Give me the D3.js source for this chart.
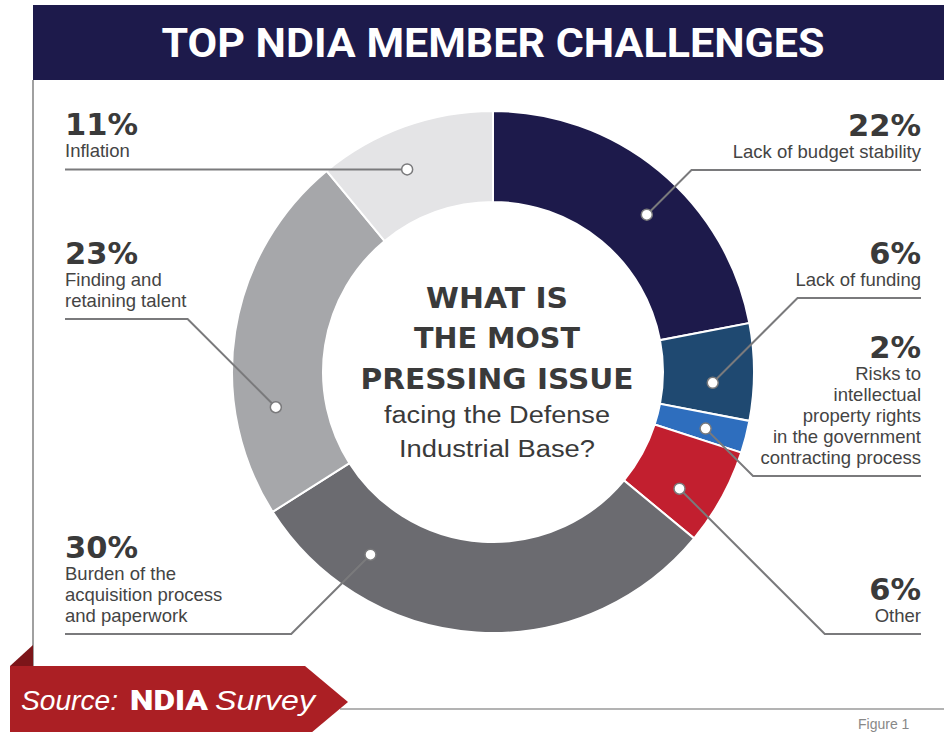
<!DOCTYPE html>
<html>
<head>
<meta charset="utf-8">
<script src="https://cdn.jsdelivr.net/npm/d3@7"></script>
<style>
  html, body { margin: 0; padding: 0; background: #fff; }
  svg { display: block; }
</style>
</head>
<body>
<script>
// survey answers, clockwise from 12 o'clock
let categories = ["budget", "funding", "ip", "other", "burden", "talent", "inflation"];
let shares = [22, 6, 2, 6, 30, 23, 11];
let labelLines = [
    ["Lack of budget stability"],
    ["Lack of funding"],
    ["Risks to", "intellectual", "property rights", "in the government", "contracting process"],
    ["Other"],
    ["Burden of the", "acquisition process", "and paperwork"],
    ["Finding and", "retaining talent"],
    ["Inflation"]
];
let sliceColors = ["#1d1a4b", "#1f4971", "#2e6ebe", "#c21f2f", "#6b6b70", "#a6a7aa", "#e4e4e6"];

// callout layout (where the dot sits in the slice, the y of the leader line, which side)
let callouts = [
    { f: 0.56, lineY: 170, side: "right" },
    { f: 0.63, lineY: 298, side: "right" },
    { f: 0.57, lineY: 476, side: "right" },
    { f: 0.65, lineY: 634, side: "right" },
    { f: 0.78, lineY: 634, side: "left" },
    { f: 0.28, lineY: 319, side: "left" },
    { f: 0.42, lineY: null, side: "left" }
];

const W = 944, H = 732;
const cx = 493, cy = 372;
const rOuter = 261, rInner = 170, rDot = 220;
const xLeft = 65, xRight = 921;
const textColor = "#3a3a3a";

let svg = d3.select("body").append("svg")
    .attr("width", W)
    .attr("height", H);

// title bar
svg.append("rect")
    .attr("x", 33).attr("y", 5)
    .attr("width", W - 33).attr("height", 75)
    .style("fill", "#1d1a4b");

svg.append("text")
    .attr("x", 493).attr("y", 57)
    .attr("text-anchor", "middle")
    .attr("textLength", 663)
    .attr("lengthAdjust", "spacingAndGlyphs")
    .style("font-family", "Roboto, 'Liberation Sans', sans-serif")
    .style("font-weight", 700)
    .style("font-size", "41px")
    .style("fill", "#fff")
    .text("TOP NDIA MEMBER CHALLENGES");

// panel border on the left
svg.append("line")
    .attr("x1", 33).attr("x2", 33)
    .attr("y1", 80).attr("y2", 666)
    .style("stroke", "#a0a0a0")
    .style("stroke-width", 2);

// donut
let pie = d3.pie().sort(null).value(d => d);
let arcs = pie(shares);
let arc = d3.arc().innerRadius(rInner).outerRadius(rOuter);

let chart = svg.append("g").attr("transform", `translate(${cx},${cy})`);

chart.selectAll("path.slice")
    .data(arcs)
    .enter()
    .append("path")
    .attr("class", "slice")
    .attr("data-id", (d, i) => categories[i])
    .attr("d", arc)
    .style("fill", (d, i) => sliceColors[i])
    .style("stroke", "#fff")
    .style("stroke-width", 2);

// leader lines + dots
function dotPoint(d, i) {
    let a = d.startAngle + callouts[i].f * (d.endAngle - d.startAngle);
    return [cx + rDot * Math.sin(a), cy - rDot * Math.cos(a)];
}

let leaders = svg.append("g");
arcs.forEach((d, i) => {
    let c = callouts[i];
    let p = dotPoint(d, i);
    let lineY = c.lineY === null ? p[1] : c.lineY;
    let sign = c.side === "right" ? 1 : -1;
    let elbow = [p[0] + sign * Math.abs(lineY - p[1]), lineY];
    let end = [c.side === "right" ? xRight : xLeft, lineY];
    c.y = lineY;

    leaders.append("path")
        .attr("d", d3.line()([p, elbow, end]))
        .style("fill", "none")
        .style("stroke", "#7a7a7c")
        .style("stroke-width", 2);

    leaders.append("circle")
        .attr("cx", p[0]).attr("cy", p[1])
        .attr("r", 5.5)
        .style("fill", "#fff")
        .style("stroke", "#7a7a7c")
        .style("stroke-width", 1.5);
});

// labels
let labels = svg.append("g");
arcs.forEach((d, i) => {
    let c = callouts[i];
    let lines = labelLines[i];
    let x = c.side === "right" ? xRight : xLeft;
    let anchor = c.side === "right" ? "end" : "start";
    let lastBase = c.y - 12;
    let firstBase = lastBase - 21 * (lines.length - 1);

    labels.append("text")
        .attr("x", x).attr("y", firstBase - 22)
        .attr("text-anchor", anchor)
        .style("font-family", "'DejaVu Sans', sans-serif")
        .style("font-weight", 700)
        .style("font-size", "30.5px")
        .style("fill", textColor)
        .text(shares[i] + "%");

    lines.forEach((t, j) => {
        labels.append("text")
            .attr("x", x).attr("y", firstBase + 21 * j)
            .attr("text-anchor", anchor)
            .style("font-family", "'Liberation Sans', Arial, sans-serif")
            .style("font-size", "18.5px")
            .style("fill", "#444")
            .text(t);
    });
});

// centre question
let question = [
    { t: "WHAT IS", y: 308, w: 142, bold: true },
    { t: "THE MOST", y: 348, w: 166, bold: true },
    { t: "PRESSING ISSUE", y: 389, w: 273, bold: true },
    { t: "facing the Defense", y: 423, w: 226, bold: false },
    { t: "Industrial Base?", y: 457, w: 196, bold: false }
];
svg.append("g").selectAll("text")
    .data(question)
    .enter()
    .append("text")
    .attr("x", 497)
    .attr("y", d => d.y)
    .attr("text-anchor", "middle")
    .attr("textLength", d => d.w)
    .attr("lengthAdjust", "spacingAndGlyphs")
    .style("font-family", d => d.bold ? "'DejaVu Sans', sans-serif" : "'Liberation Sans', Arial, sans-serif")
    .style("font-weight", d => d.bold ? 700 : 400)
    .style("font-size", d => d.bold ? "28px" : "23px")
    .style("fill", textColor)
    .text(d => d.t);

// source banner
svg.append("line")
    .attr("x1", 340).attr("x2", W)
    .attr("y1", 709).attr("y2", 709)
    .style("stroke", "#9a9a9a")
    .style("stroke-width", 1.5);

svg.append("path")
    .attr("d", "M33,645 L33,666 L10,666 Z")
    .style("fill", "#7c1519");

svg.append("path")
    .attr("d", "M10,666 L305,666 L348,702 L305,738 L10,738 Z")
    .style("fill", "#ab1f24");

let src = svg.append("text")
    .attr("y", 710)
    .style("font-family", "'Liberation Sans', Arial, sans-serif")
    .style("font-size", "28px")
    .style("fill", "#fff");
src.append("tspan")
    .attr("x", 21)
    .attr("textLength", 97)
    .attr("lengthAdjust", "spacingAndGlyphs")
    .style("font-style", "italic")
    .text("Source:");
src.append("tspan")
    .attr("x", 130)
    .attr("textLength", 78)
    .attr("lengthAdjust", "spacingAndGlyphs")
    .style("font-family", "Roboto, 'Liberation Sans', sans-serif")
    .style("font-weight", 900)
    .text("NDIA");
src.append("tspan")
    .attr("x", 215)
    .attr("textLength", 100)
    .attr("lengthAdjust", "spacingAndGlyphs")
    .style("font-style", "italic")
    .text("Survey");

svg.append("text")
    .attr("x", 858).attr("y", 729)
    .style("font-family", "'Liberation Sans', Arial, sans-serif")
    .style("font-size", "14px")
    .style("fill", "#888")
    .text("Figure 1");
</script>
</body>
</html>
